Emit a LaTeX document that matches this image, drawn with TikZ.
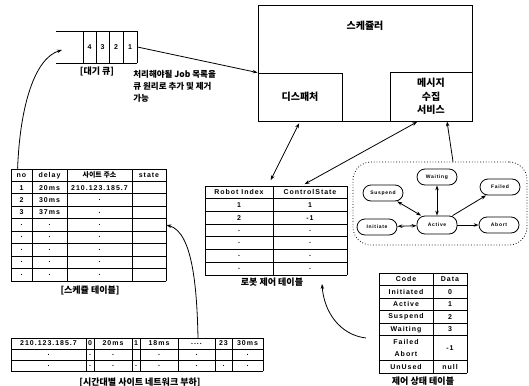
\documentclass[tikz,border=0pt]{standalone}
\usepackage{fontspec}
\setmainfont{Liberation Sans}
\newfontfamily\kr{Noto Sans CJK KR}
\newfontfamily\tabf[LetterSpace=14]{Liberation Sans}
\usetikzlibrary{arrows.meta}
\newcommand\fourdots{....}
\begin{document}
\begin{tikzpicture}[x=1pt,y=-1pt,line width=0.8pt,
  tip/.style={-{Stealth[length=5pt,width=3.5pt]}},
  dtip/.style={{Stealth[length=5pt,width=3.5pt]}-{Stealth[length=5pt,width=3.5pt]}},
  cell/.style={inner sep=0pt,font=\tabf\bfseries\fontsize{7}{8}\selectfont},
  krt/.style={inner sep=0pt,font=\kr\bfseries\fontsize{9}{10}\selectfont},
  krb/.style={inner sep=0pt,font=\kr\bfseries\fontsize{10}{13.5}\selectfont},
  grid/.style={line width=0.9pt},
  frame/.style={draw=none,inner sep=0pt},
  st/.style={draw,rounded corners=8pt,minimum width=40pt,minimum height=16pt,inner sep=0pt,
     font=\tabf\bfseries\fontsize{5}{6}\selectfont},
]
\useasboundingbox (0,0) rectangle (529,385);

% ---------------- queue ----------------
\draw (56,31) -- (137,31);
\draw (56,63) -- (137,63);
\foreach \x in {83,96,109,123,137} \draw (\x,31) -- (\x,63);
\node[cell] (q4) at (89.5,47) {4};
\node[cell] (q3) at (102.5,47) {3};
\node[cell] (q2) at (116,47) {2};
\node[frame,minimum width=14pt,minimum height=32pt,font=\tabf\bfseries\fontsize{7}{8}\selectfont] (q1) at (130,47) {1};
\coordinate (qin) at (62,50);
\node[krt] (qcap) at (97,71) {[대기 큐]};
\node[krt,anchor=north west,align=left,font=\kr\bfseries\fontsize{8.5}{12}\selectfont] (qnote) at (133,70)
  {처리해야될 Job 목록을\\큐 원리로 추가 및 제거\\가능};

% ---------------- scheduler ----------------
\node[draw,minimum width=214pt,minimum height=116pt,inner sep=0pt] (sched) at (365,63) {};
\node[krb] (schedlbl) at (365,26) {스케쥴러};
\node[draw,krb,minimum width=84pt,minimum height=48pt] (disp) at (300,97) {디스패처};
\node[draw,krb,minimum width=82pt,minimum height=49pt,align=center] (msg) at (431,96.5) {메시지\\수집\\서비스};

\draw[tip] (q1.east) -- (disp.north west);

% ---------------- schedule table ----------------
\node[frame,minimum width=155pt,minimum height=112pt] (stab) at (88.5,225) {};
\foreach \i in {0,...,9} \draw[grid] (11,{169+\i*12.444}) -- (166,{169+\i*12.444});
\foreach \x in {11,32,67,132,166} \draw[grid] (\x,169) -- (\x,281);
\foreach \r/\a/\b/\c in {0/no/delay/{\kr\bfseries 사이트 주소},1/1/20ms/210.123.185.7,2/2/30ms/.,3/3/37ms/.,
    4/././.,5/././.,6/././.,7/././.,8/././.}{
  \node[cell] (s\r a) at (21.5,{175.22+\r*12.444}) {\a};
  \node[cell] (s\r b) at (49.5,{175.22+\r*12.444}) {\b};
  \node[cell] (s\r c) at (99.5,{175.22+\r*12.444}) {\c};
}
\node[cell] (s0d) at (149,175.22) {state};
\node[krt] (scap) at (90,290) {[스케쥴 테이블]};

\draw[tip] ([xshift=7pt]stab.north west) .. controls (20,105) and (35,58) .. (qin);

% ---------------- bottom table ----------------
\node[frame,minimum width=252pt,minimum height=33pt] (btab) at (137,354.5) {};
\foreach \y in {338,349,360,371} \draw[grid] (11,\y) -- (263,\y);
\foreach \x in {11,86,94,132,140,178,215,232,263} \draw[grid] (\x,338) -- (\x,371);
\foreach \k/\x/\a/\b/\c in {1/48.5/210.123.185.7/./.,2/90/0/./.,3/113/20ms/./.,4/136/1/{}/.,
    5/159/18ms/./.,6/196.5/{\fourdots}/./.,7/223.5/23/{}/.,8/247.5/30ms/./.}{
  \node[cell] (b\k a) at (\x,343.5) {\a};
  \node[cell] (b\k b) at (\x,354.5) {\b};
  \node[cell] (b\k c) at (\x,365.5) {\c};
}
\node[krt] (bcap) at (140,382) {[시간대별 사이트 네트워크 부하]};
\coordinate (bup) at (198,338);
\draw[tip] (bup) .. controls (197,290) and (193,232) .. (stab.east);

% ---------------- robot table ----------------
\node[frame,minimum width=142pt,minimum height=89pt] (rtab) at (276,230.5) {};
\foreach \i in {0,...,7} \draw[grid] (205,{186+\i*12.714}) -- (347,{186+\i*12.714});
\foreach \x in {205,273,347} \draw[grid] (\x,186) -- (\x,275);
\foreach \r/\a/\b in {0/Robot Index/ControlState,1/1/1,2/2/-1,3/./.,4/./.,5/./.,6/./.}{
  \node[cell] (r\r a) at (239,{192.36+\r*12.714}) {\a};
  \node[cell] (r\r b) at (310,{192.36+\r*12.714}) {\b};
}
\node[krt] (rcap) at (272,282) {로봇 제어 테이블};

\draw[dtip,shorten <=6pt,shorten >=2pt] ([xshift=-8pt]rtab.north) -- (disp.south);
\draw[dtip,shorten <=3pt,shorten >=1pt] ([xshift=26pt]rtab.north) -- ([xshift=-13pt]msg.south);

% ---------------- state diagram ----------------
\node[draw,dotted,rounded corners=18pt,minimum width=174pt,minimum height=83pt,inner sep=0pt] (region) at (440,203.5) {};
\node[st] (waiting) at (437,177) {Waiting};
\node[st] (suspend) at (383,193) {Suspend};
\node[st] (failed) at (500,187) {Failed};
\node[st] (initiate) at (377,227) {Initiate};
\node[st,minimum height=18pt] (active) at (437,225) {Active};
\node[st] (abort) at (499,225) {Abort};
\draw[dtip] (waiting) -- (active);
\draw[dtip] (suspend) -- (active);
\draw[dtip] (initiate) -- (active);
\draw[tip] (active) -- (failed);
\draw[tip] (active) -- (abort);
\draw[tip] ([xshift=13pt]region.north) -- ([xshift=16pt]msg.south);

% ---------------- control state table ----------------
\node[frame,minimum width=88pt,minimum height=100pt] (ctab) at (423,323) {};
\foreach \y in {273,285.5,298,310.5,323,335.5,360.5,373} \draw[grid] (379,\y) -- (467,\y);
\foreach \x in {379,433,467} \draw[grid] (\x,273) -- (\x,373);
\foreach \k/\y/\a/\b in {0/279.25/Code/Data,1/291.75/Initiated/0,2/304.25/Active/1,3/316.75/Suspend/2,
    4/329.25/Waiting/3,6/366.75/UnUsed/null}{
  \node[cell] (c\k a) at (406,\y) {\a};
  \node[cell] (c\k b) at (450,\y) {\b};
}
\node[cell,align=center,font=\tabf\bfseries\fontsize{7}{12}\selectfont] (c5a) at (406,348) {Failed\\Abort};
\node[cell] (c5b) at (450,348) {-1};
\node[krt] (ccap) at (423,381) {제어 상태 테이블};
\coordinate (cfrom) at (366,338);
\draw[tip] (cfrom) .. controls (340,335) and (324,312) .. (322,284);
\end{tikzpicture}
\end{document}
